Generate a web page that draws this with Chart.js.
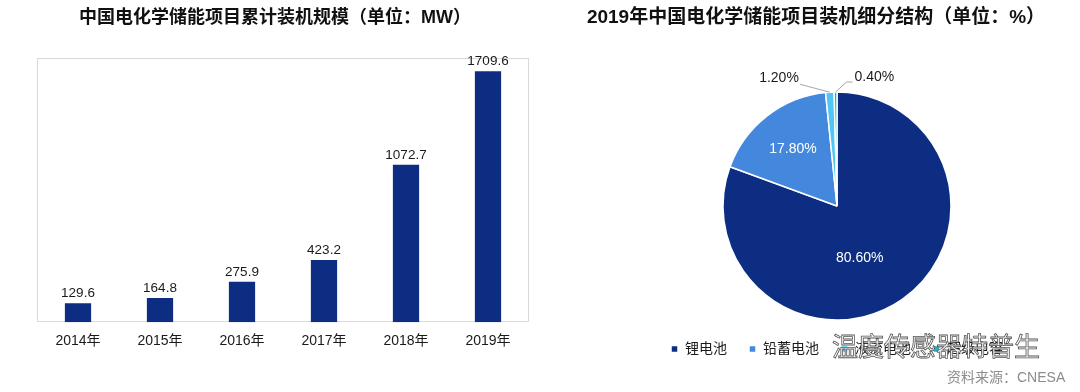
<!DOCTYPE html>
<html>
<head>
<meta charset="utf-8">
<script src="https://cdn.jsdelivr.net/npm/chart.js@4.4.1/dist/chart.umd.min.js"></script>
<style>
html, body { margin: 0; padding: 0; background: #fff; }
#wrap { position: relative; width: 1080px; height: 392px; overflow: hidden; }
canvas { position: absolute; top: 0; }
#c1 { left: 0; }
#c2 { left: 540px; }
.title { position: absolute; top: 4px; line-height: 26px; text-align: center; font-weight: bold; color: #111;
         font-family: 'Liberation Sans', 'Noto Sans CJK SC', sans-serif; white-space: nowrap; }
#t1 { left: 0; width: 550px; font-size: 18px; }
#t2 { left: 540px; width: 552px; font-size: 19px; }
#mark { position: absolute; left: 832px; top: 328px; font-size: 26px; line-height: 34px; color: #fff;
        -webkit-text-stroke: 0.8px #555; font-family: 'Noto Sans CJK SC', sans-serif; white-space: nowrap; }
#src { position: absolute; left: 947px; top: 368px; font-size: 14px; line-height: 18px; color: #8c8c8c;
       font-family: 'Liberation Sans', 'Noto Sans CJK SC', sans-serif; white-space: nowrap; }
</style>
</head>
<body>
<div id="wrap">
  <canvas id="c1" width="540" height="392"></canvas>
  <canvas id="c2" width="540" height="392"></canvas>
  <div class="title" id="t1">中国电化学储能项目累计装机规模（单位：MW）</div>
  <div class="title" id="t2">2019年中国电化学储能项目装机细分结构（单位：%）</div>
  <div id="mark">温度传感器特普生</div>
  <div id="src">资料来源：CNESA</div>
</div>
<script>
var FONT = "'Liberation Sans', 'Noto Sans CJK SC', sans-serif";

// bar chart data
var years = ['2014年', '2015年', '2016年', '2017年', '2018年', '2019年'];
var capacity = [129.6, 164.8, 275.9, 423.2, 1072.7, 1709.6];
var yMax = 1800;

// pie chart data
var kinds = ['锂电池', '铅蓄电池', '液流电池', '超级电容'];
var shares = [80.6, 17.8, 1.2, 0.4];

var NAVY = '#0c2d82';
var pieColors = [NAVY, '#4388dd', '#4fc6f3', '#1fb4c4'];

// light grey frame around the plot area
var boxPlugin = {
	id: 'box',
	beforeDatasetsDraw: function(chart) {
		var a = chart.chartArea, ctx = chart.ctx;
		ctx.save();
		ctx.strokeStyle = '#d9d9d9';
		ctx.lineWidth = 1;
		ctx.strokeRect(Math.round(a.left) + 0.5, Math.round(a.top) + 0.5,
			Math.round(a.right - a.left) - 1, Math.round(a.bottom - a.top) - 1);
		ctx.restore();
	}
};

// value over each bar
var barLabels = {
	id: 'barLabels',
	afterDatasetsDraw: function(chart) {
		var ctx = chart.ctx, meta = chart.getDatasetMeta(0);
		ctx.save();
		ctx.font = '13.5px ' + FONT;
		ctx.fillStyle = '#1a1a1a';
		ctx.textAlign = 'center';
		ctx.textBaseline = 'alphabetic';
		meta.data.forEach(function(bar, i) {
			ctx.fillText(capacity[i].toFixed(1), bar.x, bar.y - 6);
		});
		ctx.restore();
	}
};

// percentages: inside for big slices, with leader lines for tiny ones
var leaders = { 2: { dx: -30, dy: -8, run: 0 }, 3: { dx: 11, dy: -10, run: 6 } };
var pieLabels = {
	id: 'pieLabels',
	afterDatasetsDraw: function(chart) {
		var ctx = chart.ctx, meta = chart.getDatasetMeta(0);
		ctx.save();
		ctx.font = '14px ' + FONT;
		ctx.textBaseline = 'middle';
		meta.data.forEach(function(arc, i) {
			var txt = shares[i].toFixed(2) + '%';
			var mid = (arc.startAngle + arc.endAngle) / 2;
			var lead = leaders[i];
			if (!lead) {
				// big slices: Excel pulls the label a bit toward the vertical axis
				var big = shares[i] > 50;
				var a = big ? mid + 0.2 : mid;
				var r = arc.outerRadius * (big ? 0.5 : 0.63);
				ctx.fillStyle = '#fff';
				ctx.textAlign = 'center';
				ctx.fillText(txt, arc.x + Math.cos(a) * r, arc.y + Math.sin(a) * r);
				return;
			}
			var x0 = arc.x + Math.cos(mid) * arc.outerRadius, y0 = arc.y + Math.sin(mid) * arc.outerRadius;
			var x1 = x0 + lead.dx, y1 = y0 + lead.dy;
			var x2 = x1 + (lead.dx < 0 ? -lead.run : lead.run);
			ctx.strokeStyle = '#a6a6a6';
			ctx.lineWidth = 1;
			ctx.beginPath();
			ctx.moveTo(x0, y0);
			ctx.lineTo(x1, y1);
			ctx.lineTo(x2, y1);
			ctx.stroke();
			ctx.fillStyle = '#1a1a1a';
			if (lead.dx < 0) {
				ctx.textAlign = 'right';
				ctx.fillText(txt, x2 - 1, y1 - 6);
			} else {
				ctx.textAlign = 'left';
				ctx.fillText(txt, x2 + 2, y1 - 5);
			}
		});
		ctx.restore();
	}
};

var barChart = {
	type: 'bar',
	data: {
		labels: years,
		datasets: [{
			data: capacity,
			backgroundColor: NAVY,
			categoryPercentage: 1,
			barPercentage: 0.32
		}]
	},
	options: {
		responsive: false,
		animation: false,
		layout: { padding: { left: 37, right: 11, top: 58, bottom: 31 } },
		plugins: { legend: { display: false }, tooltip: { enabled: false } },
		scales: {
			x: {
				grid: { display: false, drawTicks: false },
				border: { display: false },
				ticks: { color: '#1a1a1a', font: { family: FONT, size: 14 }, padding: 11 }
			},
			y: { display: false, min: 0, max: yMax }
		}
	},
	plugins: [boxPlugin, barLabels]
};

var pieChart = {
	type: 'pie',
	data: {
		labels: kinds,
		datasets: [{
			data: shares,
			backgroundColor: pieColors,
			borderColor: '#fff',
			borderWidth: 1.5
		}]
	},
	options: {
		responsive: false,
		animation: false,
		radius: 114,
		layout: { padding: { left: 54, right: 0, top: 92, bottom: 26 } },
		plugins: {
			tooltip: { enabled: false },
			legend: {
				position: 'bottom',
				labels: { boxWidth: 7, boxHeight: 7, color: '#1a1a1a', padding: 22,
					font: { family: FONT, size: 14 } }
			}
		}
	},
	plugins: [pieLabels]
};

window.onload = function() {
	new Chart(document.getElementById('c1').getContext('2d'), barChart);
	new Chart(document.getElementById('c2').getContext('2d'), pieChart);
};
</script>
</body>
</html>
